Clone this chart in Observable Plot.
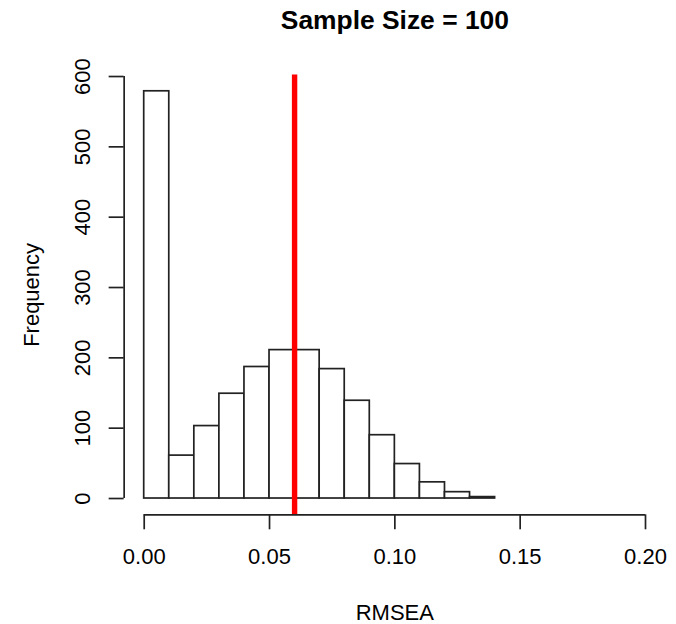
<!DOCTYPE html>
<html>
<head>
<meta charset="utf-8">
<script src="https://cdn.jsdelivr.net/npm/d3@7"></script>
<script src="https://cdn.jsdelivr.net/npm/@observablehq/plot@0.6"></script>
<style>
  html, body { margin: 0; padding: 0; background: #fff; }
  #chart svg { display: block; }
</style>
</head>
<body>
<div id="chart"></div>
<script>
// Histogram bin edges (RMSEA) and counts
const binLo  = [0.00, 0.01, 0.02, 0.03, 0.04, 0.05, 0.06, 0.07, 0.08, 0.09, 0.10, 0.11, 0.12, 0.13];
const binHi  = [0.01, 0.02, 0.03, 0.04, 0.05, 0.06, 0.07, 0.08, 0.09, 0.10, 0.11, 0.12, 0.13, 0.14];
const counts = [579, 61, 103, 149, 187, 211, 211, 184, 139, 90, 49, 23, 9, 2];
const refLine = [0.06];
const xTicks = [0.00, 0.05, 0.10, 0.15, 0.20];
const yTicks = [0, 100, 200, 300, 400, 500, 600];
const xLim = [0, 0.2];
const titleText = "Sample Size = 100";
const xLabel = "RMSEA";
const yLabel = "Frequency";

const bins = binLo.map((lo, i) => ({lo, hi: binHi[i], count: counts[i]}));

// R-style 4% axis extension
const ext = (a, b) => { const d = (b - a) * 0.04; return [a - d, b + d]; };
const xDomain = ext(xLim[0], xLim[1]);
const yDomain = ext(0, d3.max(counts));

const font = "'Liberation Sans', Arial, sans-serif";
const ink = "#222";
const lw = 1.7;

const chart = Plot.plot({
  width: 676,
  height: 624,
  marginLeft: 123.65,
  marginRight: 10.95,
  marginTop: 74.5,
  marginBottom: 109.7,
  style: {fontFamily: font, color: "#000", background: "#fff", overflow: "visible"},
  x: {domain: xDomain, axis: null},
  y: {domain: yDomain, axis: null},
  marks: [
    Plot.rectY(bins, {x1: "lo", x2: "hi", y: "count", fill: "white", stroke: ink, strokeWidth: lw}),
    Plot.ruleX(refLine, {stroke: "#ff0000", strokeWidth: 5.4}),
    // x axis
    Plot.ruleY([yDomain[0]], {x1: xTicks[0], x2: xTicks[xTicks.length - 1], stroke: ink, strokeWidth: lw}),
    Plot.axisX(xTicks, {anchor: "bottom", tickSize: 15, tickFormat: () => "", stroke: ink, strokeWidth: lw, label: null}),
    Plot.text(xTicks, {x: d => d, text: d => d3.format(".2f")(d), frameAnchor: "bottom", dy: 49.2, lineAnchor: "bottom", fontSize: 22, fill: "#000"}),
    // y axis
    Plot.ruleX([xDomain[0]], {y1: yTicks[0], y2: yTicks[yTicks.length - 1], stroke: ink, strokeWidth: lw}),
    Plot.axisY(yTicks, {anchor: "left", tickSize: 15, tickFormat: () => "", stroke: ink, strokeWidth: lw, label: null}),
    Plot.text(yTicks, {y: d => d, text: d => String(d), frameAnchor: "left", dx: -34.3, rotate: -90, textAnchor: "middle", lineAnchor: "bottom", fontSize: 22, fill: "#000"}),
    // labels and title
    Plot.text([xLabel], {frameAnchor: "bottom", dy: 105, lineAnchor: "bottom", fontSize: 22, fill: "#000"}),
    Plot.text([yLabel], {frameAnchor: "left", dx: -85.1, rotate: -90, textAnchor: "middle", lineAnchor: "bottom", fontSize: 22, fill: "#000"}),
    Plot.text([titleText], {frameAnchor: "top", dy: -46, lineAnchor: "bottom", fontSize: 26.4, fontWeight: "bold", fill: "#000"})
  ]
});

document.getElementById("chart").appendChild(chart);
</script>
</body>
</html>
